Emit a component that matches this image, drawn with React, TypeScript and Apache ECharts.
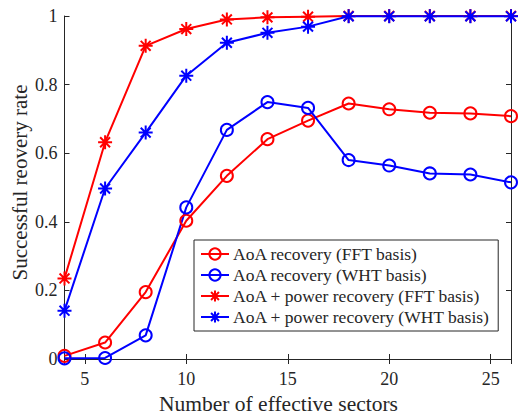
import React, { useEffect, useRef } from "react";
import * as echarts from "echarts";

const sectors = [4, 6, 8, 10, 12, 14, 16, 18, 20, 22, 24, 26];
const aoaFFT = [0.009, 0.048, 0.195, 0.403, 0.534, 0.641, 0.695, 0.745, 0.728, 0.718, 0.716, 0.708];
const aoaWHT = [0.002, 0.003, 0.069, 0.442, 0.668, 0.749, 0.732, 0.58, 0.564, 0.541, 0.538, 0.515];
const powerFFT = [0.235, 0.632, 0.913, 0.962, 0.99, 0.996, 0.998, 1, 1, 1, 1, 1];
const powerWHT = [0.141, 0.497, 0.66, 0.826, 0.922, 0.951, 0.969, 0.999, 0.999, 0.999, 0.999, 0.999];
const seriesNames = [
  "AoA recovery (FFT basis)",
  "AoA recovery (WHT basis)",
  "AoA + power recovery (FFT basis)",
  "AoA + power recovery (WHT basis)",
];
const xTitle = "Number of effective sectors";
const yTitle = "Successful reovery rate";

const STAR = "path://M0,-10L0,10M-10,0L10,0M-7.07,-7.07L7.07,7.07M-7.07,7.07L7.07,-7.07";
const FONT = "Liberation Serif";
const AX = "#262626";

function mk(name: string, values: number[], color: string, star: boolean) {
  return {
    name,
    type: "line",
    data: sectors.map((x, i) => [x, values[i]]),
    symbol: star ? STAR : "circle",
    symbolSize: star ? 14 : 12,
    showSymbol: true,
    lineStyle: { color, width: 2 },
    itemStyle: { color: star ? color : "rgba(0,0,0,0)", borderColor: color, borderWidth: 2 },
    emphasis: { disabled: true },
    z: 3,
  };
}

export default function App() {
  const ref = useRef<HTMLDivElement>(null);
  useEffect(() => {
    const chart = echarts.init(ref.current!, null, { renderer: "svg" });
    const axisCommon = {
      axisLine: { show: true, lineStyle: { color: AX, width: 1 } },
      axisTick: { show: true, inside: true, length: 5, lineStyle: { color: AX } },
      splitLine: { show: false },
    };
    chart.setOption({
      animation: false,
      backgroundColor: "#ffffff",
      textStyle: { fontFamily: FONT },
      grid: { left: 64.5, top: 16, right: 9, bottom: 56, containLabel: false, outerBoundsMode: "none" },
      xAxis: [
        {
          type: "value",
          min: 4,
          max: 26,
          splitNumber: 5,
          ...axisCommon,
          axisLabel: {
            color: AX,
            fontFamily: FONT,
            fontSize: 18,
            margin: 11,
            showMinLabel: false,
            showMaxLabel: false,
            formatter: (v: number) => (v % 5 === 0 ? String(v) : ""),
          },
        },
        {
          type: "value",
          position: "top",
          min: 4,
          max: 26,
          splitNumber: 5,
          ...axisCommon,
          axisLabel: { show: false },
        },
      ],
      yAxis: [
        {
          type: "value",
          min: 0,
          max: 1,
          interval: 0.2,
          ...axisCommon,
          axisLabel: {
            color: AX,
            fontFamily: FONT,
            fontSize: 18,
            margin: 7,
            formatter: (v: number) => String(Math.round(v * 10) / 10),
          },
        },
        {
          type: "value",
          position: "right",
          min: 0,
          max: 1,
          interval: 0.2,
          ...axisCommon,
          axisLabel: { show: false },
        },
      ],
      graphic: [
        {
          type: "text",
          x: 278.5,
          y: 404,
          style: {
            text: xTitle,
            fill: AX,
            font: "21.5px Liberation Serif",
            textAlign: "center",
            textVerticalAlign: "middle",
          },
        },
        {
          type: "text",
          x: 19.5,
          y: 182.5,
          rotation: Math.PI / 2,
          style: {
            text: yTitle,
            fill: AX,
            font: "21px Liberation Serif",
            textAlign: "center",
            textVerticalAlign: "middle",
          },
        },
      ],
      legend: {
        orient: "vertical",
        left: 194,
        top: 240,
        padding: [5, 8, 5, 6],
        itemGap: 3,
        itemWidth: 28,
        itemHeight: 14,
        backgroundColor: "#ffffff",
        borderColor: AX,
        borderWidth: 1,
        textStyle: { color: AX, fontFamily: FONT, fontSize: 17.5, lineHeight: 18, padding: [0, 0, 0, -1] },
        data: seriesNames,
        selectedMode: false,
      },
      series: [
        mk(seriesNames[0], aoaFFT, "#ff0000", false),
        mk(seriesNames[1], aoaWHT, "#0000ff", false),
        mk(seriesNames[2], powerFFT, "#ff0000", true),
        mk(seriesNames[3], powerWHT, "#0000ff", true),
      ],
    });
    return () => chart.dispose();
  }, []);
  return <div ref={ref} style={{ width: 520, height: 415, position: "absolute", left: 0, top: 0 }} />;
}
